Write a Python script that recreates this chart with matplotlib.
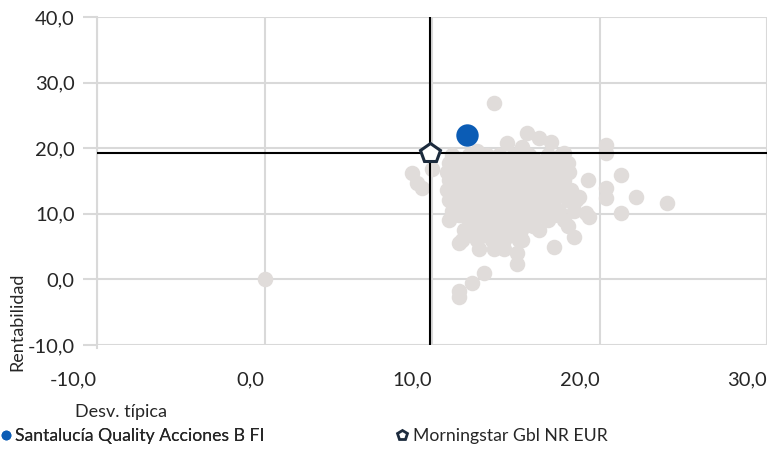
import matplotlib
matplotlib.use('Agg')
import matplotlib.pyplot as plt
from matplotlib.lines import Line2D

plt.rcParams['font.family'] = ['Lato', 'DejaVu Sans']

# peer funds (desv. tipica, rentabilidad)
peer_x = [
    0.0, 13.7, 8.8, 9.1, 9.4, 10.0,
    14.5, 15.7, 16.4, 17.1, 17.9, 15.4, 12.7, 13.4,
    11.2, 12.2, 13.3, 14.0, 14.9, 15.8, 16.9, 17.7,
    11.6, 12.6, 13.5, 14.4, 15.2, 16.1, 17.0,
    11.0, 11.9, 12.8, 13.7, 14.5, 15.3, 16.3, 17.3, 18.1,
    11.4, 12.3, 13.2, 14.0, 14.9, 15.7, 16.6, 17.5,
    10.9, 11.6, 12.5, 13.4, 14.3, 15.1, 15.9, 16.7, 17.6, 18.2,
    11.3, 12.1, 13.0, 13.9, 14.8, 15.6, 16.5, 17.3,
    11.0, 11.8, 12.7, 13.6, 14.5, 15.2, 16.1, 16.9, 17.9,
    11.3, 12.1, 12.9, 13.8, 14.6, 15.4, 16.3, 17.1,
    10.9, 11.5, 12.4, 13.3, 14.0, 14.9, 15.8, 16.7, 17.5, 18.3,
    11.4, 12.3, 13.2, 14.1, 15.0, 15.9, 16.8, 17.7,
    11.0, 11.9, 12.8, 13.7, 14.6, 15.5, 16.4, 17.3, 18.1,
    11.6, 12.5, 13.4, 14.3, 15.2, 16.1, 17.0,
    11.2, 12.1, 13.0, 13.8, 14.8, 15.7, 16.7, 17.6, 18.5,
    11.6, 12.6, 13.5, 14.4, 15.3, 16.3, 17.3,
    11.0, 12.2, 13.1, 14.0, 14.9, 15.8, 16.9, 17.9,
    12.3, 13.3, 14.2, 15.1, 16.0,
    11.9, 12.8, 13.7, 14.6, 15.3, 16.4,
    12.3, 13.2, 14.0, 14.8,
    11.8, 12.7, 13.6, 14.3, 15.2,
    12.8, 13.7, 14.3,
    20.4, 20.4, 19.3, 21.3, 20.4, 20.4, 22.2, 24.0, 21.3, 19.4, 18.8,
    18.5, 17.3, 19.2, 18.6, 18.1,
    11.6, 13.1, 12.4, 11.6, 11.6, 15.1, 15.1, 15.4,
]
peer_y = [
    0.0, 26.9, 16.2, 14.7, 13.9, 16.9,
    20.8, 22.3, 21.5, 20.9, 19.2, 20.2, 19.5, 18.2,
    18.9, 18.9, 18.9, 18.9, 18.9, 18.9, 18.9, 18.9,
    18.3, 18.3, 18.3, 18.3, 18.3, 18.3, 18.3,
    17.7, 17.7, 17.7, 17.7, 17.7, 17.7, 17.7, 17.7, 17.7,
    17.0, 17.0, 17.0, 17.0, 17.0, 17.0, 17.0, 17.0,
    16.3, 16.3, 16.3, 16.3, 16.3, 16.3, 16.3, 16.3, 16.3, 16.3,
    15.7, 15.7, 15.7, 15.7, 15.7, 15.7, 15.7, 15.7,
    15.1, 15.1, 15.1, 15.1, 15.1, 15.1, 15.1, 15.1, 15.1,
    14.3, 14.3, 14.3, 14.3, 14.3, 14.3, 14.3, 14.3,
    13.6, 13.6, 13.6, 13.6, 13.6, 13.6, 13.6, 13.6, 13.6, 13.6,
    12.8, 12.8, 12.8, 12.8, 12.8, 12.8, 12.8, 12.8,
    12.1, 12.1, 12.1, 12.1, 12.1, 12.1, 12.1, 12.1, 12.1,
    11.3, 11.3, 11.3, 11.3, 11.3, 11.3, 11.3,
    10.5, 10.5, 10.5, 10.5, 10.5, 10.5, 10.5, 10.5, 10.5,
    9.8, 9.8, 9.8, 9.8, 9.8, 9.8, 9.8,
    9.0, 9.0, 9.0, 9.0, 9.0, 9.0, 9.0, 9.0,
    8.2, 8.2, 8.2, 8.2, 8.2,
    7.5, 7.5, 7.5, 7.5, 7.5, 7.5,
    6.7, 6.7, 6.7, 6.7,
    6.0, 6.0, 6.0, 6.0, 6.0,
    4.7, 4.7, 4.7,
    20.5, 19.2, 15.1, 15.9, 13.9, 12.4, 12.5, 11.6, 10.1, 9.5, 12.5,
    6.4, 4.9, 10.1, 12.1, 8.1,
    5.5, 0.9, -0.6, -1.7, -2.7, 2.4, 4.0, 6.0,
]

fund_name = 'Santalucía Quality Acciones B FI'
fund_x, fund_y = 12.1, 22.0
bench_name = 'Morningstar Gbl NR EUR'
bench_x, bench_y = 9.9, 19.2

ticks = [-10, 0, 10, 20, 30]
yticks = [-10, 0, 10, 20, 30, 40]

GRID = '#d9d9d9'
PEER = '#e0dcda'
BLUE = '#0b5cb5'
NAVY = '#1c2b3d'
TXT = '#262626'

fig = plt.figure(figsize=(7.67, 4.57), dpi=100)
ax = fig.add_axes([97/767, 1 - 345/457, 670/767, 328/457])

ax.scatter(peer_x, peer_y, s=125, color=PEER, lw=0, zorder=2)
ax.axvline(bench_x, color='black', lw=1.5, zorder=3)
ax.axhline(bench_y, color='black', lw=1.5, zorder=3)
ax.scatter([fund_x], [fund_y], s=260, color=BLUE, lw=0, zorder=4)
ax.plot([bench_x], [bench_y], marker='p', ms=15, mfc='white', mec=NAVY,
        mew=2.2, ls='none', zorder=5)

ax.set_xlim(-10, 30)
ax.set_ylim(-10, 40)
ax.set_xticks(ticks)
ax.set_yticks(yticks)
ax.set_xticklabels([f'{t:.1f}'.replace('.', ',') for t in ticks], ha='right')
ax.set_yticklabels([f'{t:.1f}'.replace('.', ',') for t in yticks])
ax.tick_params(axis='x', length=0, pad=19, labelsize=14.5, colors=TXT)
ax.tick_params(axis='y', length=10, width=1.5, color=GRID, pad=6,
               labelsize=14.5, labelcolor=TXT)
ax.grid(True, color=GRID, lw=1.5, zorder=0)
ax.set_axisbelow(True)
for side in ['top', 'right', 'bottom']:
    ax.spines[side].set_visible(False)
ax.spines['left'].set_color(GRID)
ax.spines['left'].set_linewidth(1.5)
ax.spines['left'].set_bounds(-10.5, 40)

fig.text(17/767, 1 - 322/457, 'Rentabilidad', rotation=90, ha='center',
         va='center', fontsize=13, color=TXT)
fig.text(75/767, 1 - 412/457, 'Desv. típica', ha='left', va='center',
         fontsize=13, color=TXT)

h1 = Line2D([], [], marker='o', ms=6, color=BLUE, ls='none')
h2 = Line2D([], [], marker='p', ms=7, mfc='white', mec=NAVY, mew=2, ls='none')
leg1 = fig.legend([h1], [fund_name], loc='center left',
                  bbox_to_anchor=(-0.008, 1 - 436/457), frameon=False,
                  fontsize=12.7, handlelength=0.6, handletextpad=0.2,
                  borderaxespad=0, labelcolor=TXT)
fig.legend([h2], [bench_name], loc='center left',
           bbox_to_anchor=(390/767, 1 - 436/457), frameon=False,
           fontsize=12.7, handlelength=0.6, handletextpad=0.3, borderaxespad=0,
           labelcolor=TXT)
fig.add_artist(leg1)

fig.savefig('out.png', dpi=100)
